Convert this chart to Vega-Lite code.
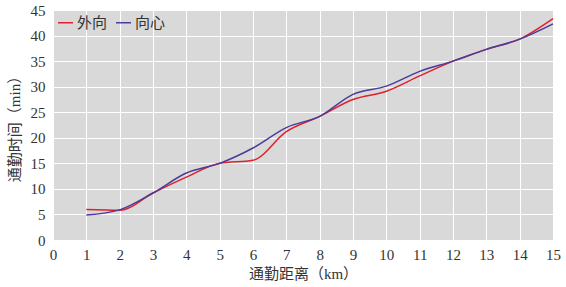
{
  "$schema": "https://vega.github.io/schema/vega-lite/v6.json",
  "width": 500,
  "height": 230,
  "autosize": {"type": "none"},
  "padding": {"left": 53, "top": 10, "right": 13, "bottom": 47},
  "background": "white",
  "config": {
    "view": {"fill": "#d9d9d9", "stroke": null},
    "font": "'Liberation Serif', 'Noto Sans CJK SC', serif",
    "axis": {
      "grid": true,
      "gridColor": "#ffffff",
      "gridWidth": 1,
      "domain": false,
      "ticks": false,
      "labelFont": "'Liberation Serif', 'DejaVu Serif', serif",
      "labelFontSize": 15,
      "labelColor": "#333333",
      "titleFont": "'Liberation Serif', 'Noto Sans CJK SC', serif",
      "titleFontSize": 15,
      "titleFontWeight": "normal",
      "titleColor": "#333333"
    }
  },
  "data": {
    "values": [
      {"d": 1, "t": 5.95, "s": "外向"},
      {"d": 2, "t": 5.8, "s": "外向"},
      {"d": 3, "t": 9.2, "s": "外向"},
      {"d": 4, "t": 12.3, "s": "外向"},
      {"d": 5, "t": 15.0, "s": "外向"},
      {"d": 6, "t": 15.6, "s": "外向"},
      {"d": 7, "t": 21.2, "s": "外向"},
      {"d": 8, "t": 24.2, "s": "外向"},
      {"d": 9, "t": 27.5, "s": "外向"},
      {"d": 10, "t": 29.1, "s": "外向"},
      {"d": 11, "t": 32.1, "s": "外向"},
      {"d": 12, "t": 35.0, "s": "外向"},
      {"d": 13, "t": 37.3, "s": "外向"},
      {"d": 14, "t": 39.3, "s": "外向"},
      {"d": 15, "t": 43.3, "s": "外向"},
      {"d": 1, "t": 4.9, "s": "向心"},
      {"d": 2, "t": 5.9, "s": "向心"},
      {"d": 3, "t": 9.2, "s": "向心"},
      {"d": 4, "t": 13.1, "s": "向心"},
      {"d": 5, "t": 15.0, "s": "向心"},
      {"d": 6, "t": 18.0, "s": "向心"},
      {"d": 7, "t": 22.0, "s": "向心"},
      {"d": 8, "t": 24.2, "s": "向心"},
      {"d": 9, "t": 28.5, "s": "向心"},
      {"d": 10, "t": 30.1, "s": "向心"},
      {"d": 11, "t": 33.0, "s": "向心"},
      {"d": 12, "t": 35.0, "s": "向心"},
      {"d": 13, "t": 37.3, "s": "向心"},
      {"d": 14, "t": 39.3, "s": "向心"},
      {"d": 15, "t": 42.3, "s": "向心"}
    ]
  },
  "mark": {"type": "line", "interpolate": "monotone", "strokeWidth": 1.5},
  "encoding": {
    "x": {
      "field": "d", "type": "quantitative",
      "scale": {"domain": [0, 15], "nice": false},
      "axis": {"values": [0,1,2,3,4,5,6,7,8,9,10,11,12,13,14,15], "title": "通勤距离（km）", "labelPadding": 7, "titlePadding": 4, "labelFlush": false}
    },
    "y": {
      "field": "t", "type": "quantitative",
      "scale": {"domain": [0, 45], "nice": false},
      "axis": {"values": [0,5,10,15,20,25,30,35,40,45], "title": "通勤时间（min）", "labelPadding": 8, "titlePadding": 8, "labelFlush": false}
    },
    "color": {
      "field": "s", "type": "nominal",
      "scale": {"domain": ["外向", "向心"], "range": ["#e0202c", "#4a3c9c"]},
      "legend": {
        "title": null,
        "orient": "top-left",
        "direction": "horizontal",
        "offset": 2,
        "padding": 2,
        "symbolType": "stroke",
        "symbolSize": 225,
        "symbolStrokeWidth": 1.5,
        "labelFont": "'Liberation Serif', 'Noto Sans CJK SC', serif",
        "labelFontSize": 15,
        "labelColor": "#333333",
        "labelOffset": 3,
        "columnPadding": 5
      }
    }
  }
}
